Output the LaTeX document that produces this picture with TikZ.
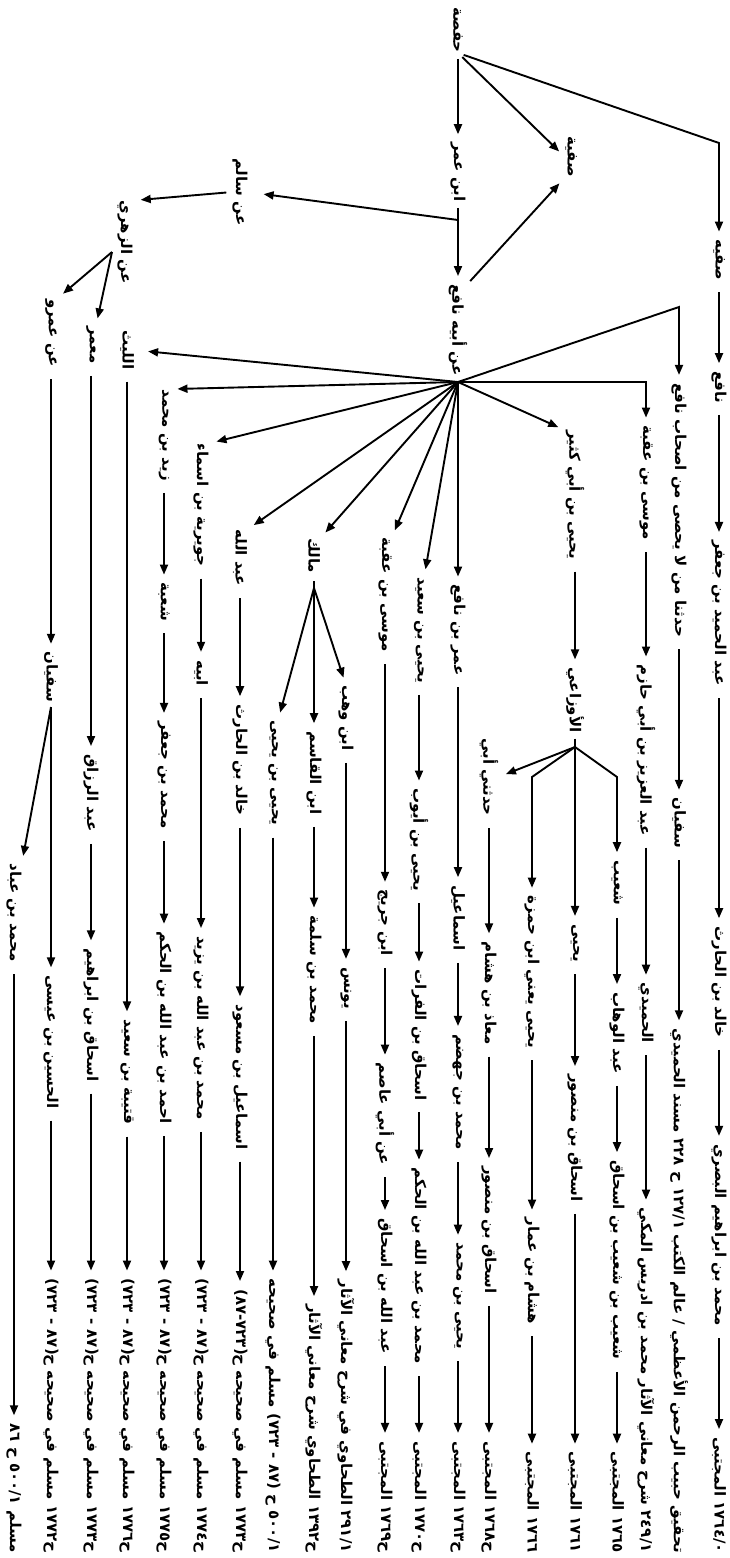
\documentclass[tikz,border=0pt]{standalone}
\usepackage{fontspec}
\usetikzlibrary{arrows.meta,calc}
\newfontfamily\arfont[Script=Arabic]{DejaVu Sans}
\newfontfamily\nm{DejaVu Sans}
\TeXXeTstate=1
\newcommand\AR[1]{\beginR #1\endR}
\newcommand\N[1]{{\nm\bfseries #1}}
\newcommand\NL[1]{\beginL{\nm\bfseries #1}\endL}
\tikzset{
 lbl/.style={rotate=-90, inner sep=0pt, font=\arfont\bfseries\fontsize{15pt}{17pt}\selectfont},
 ln/.style={line width=1.9pt},
 arr/.style={ln, -{Triangle[length=10pt,width=8pt]}, shorten >=8pt},
 ch/.style={arr, shorten <=12pt},
}
\newcommand\link[2]{\draw[ch] (#1.east) -- (#2.west);}
\begin{document}
\begin{tikzpicture}[x=1pt,y=-1pt]
\useasboundingbox (0,0) rectangle (730,1558);
\fill[white] (0,0) rectangle (730,1558);
% top
\node[lbl] (hafsa) at (458,30) {\AR{حفصة}};
\node[lbl] (ibnumar) at (458,172) {\AR{ابن عمر}};
\node[lbl] (safa) at (571,157) {\AR{صفية}};
\node[lbl] (nafi) at (458,330) {\AR{عن أبيه نافع}};
\node[lbl] (salim) at (240,192) {\AR{عن سالم}};
\node[lbl] (zuhri) at (125,242) {\AR{عن الزهري}};
\node[lbl] (amr) at (51,333) {\AR{عن عمرو}};
\node[lbl] (mamar) at (91,345) {\AR{معمر}};
\node[lbl] (layth) at (127,350) {\AR{الليث}};
\coordinate (cR) at (719,143);
\coordinate (cI) at (458,220);
\coordinate (hub) at (458,382);
\coordinate (cH) at (679,307);
\coordinate (zf) at (112,252);
\coordinate (mf) at (314,588);
\coordinate (af) at (575,747);
\coordinate (afL) at (532,777);
\coordinate (afR) at (617,777);
\coordinate (sf) at (51,707);
% column R
\node[lbl] (safb) at (719,260) {\AR{صفيه}};
\node[lbl] (nafb) at (719,387) {\AR{نافع}};
\node[lbl] (r3) at (719,613) {\AR{عبد الحميد بن جعفر}};
\node[lbl] (r4) at (719,982) {\AR{خالد بن الحارث}};
\node[lbl] (r5) at (719,1235) {\AR{محمد بن ابراهيم البصري}};
\node[lbl,anchor=east] (r6) at (719,1553) {\AR{\N{١٧٦٤/٠} المجتبى}};
% column H
\node[lbl] (h1) at (679,510) {\AR{حدثنا من لا يحصى من اصحاب نافع}};
\node[lbl] (h2) at (679,823) {\AR{سفيان}};
\node[lbl,anchor=east] (h3) at (679,1553) {\AR{تحقيق حبيب الرحمن الأعظمي \N{/} عالم الكتب \N{١٢٧/١} ح \N{٢٢٨} مسند الحميدي}};
% column M
\node[lbl] (m1) at (646,483) {\AR{موسى بن عقبة}};
\node[lbl] (m2) at (646,750) {\AR{عبد العزيز بن أبي حازم}};
\node[lbl] (m3) at (646,1013) {\AR{الحميدي}};
\node[lbl,anchor=east] (m4) at (646,1553) {\AR{\N{٢٤٩/١} شرح معاني الآثار محمد بن ادريس المكي}};
% Awzai group
\node[lbl] (k1) at (575,495) {\AR{يحيى بن أبي كثير}};
\node[lbl] (k2) at (575,700) {\AR{الأوزاعي}};
\node[lbl] (sh1) at (617,883) {\AR{شعيب}};
\node[lbl] (sh2) at (617,1033) {\AR{عبد الوهاب}};
\node[lbl] (sh3) at (617,1260) {\AR{شعيب بن شعيب بن اسحاق}};
\node[lbl,anchor=east] (sh4) at (617,1553) {\AR{\N{١٧٦٥} المجتبى}};
\node[lbl] (ya1) at (575,943) {\AR{يحيى}};
\node[lbl] (ya2) at (575,1138) {\AR{اسحاق بن منصور}};
\node[lbl,anchor=east] (ya3) at (575,1553) {\AR{\N{١٧٦١} المجتبى}};
\node[lbl] (yh1) at (532,972) {\AR{يحيى يعني ابن حمزة}};
\node[lbl] (yh2) at (532,1271) {\AR{هشام بن عمار}};
\node[lbl,anchor=east] (yh3) at (532,1553) {\AR{\N{١٧٦٦} المجتبى}};
\node[lbl] (ab1) at (489,777) {\AR{حدثني أبي}};
\node[lbl] (ab2) at (489,993) {\AR{معاذ بن هشام}};
\node[lbl] (ab3) at (489,1230) {\AR{اسحاق بن منصور}};
\node[lbl,anchor=east] (ab4) at (489,1553) {\AR{ح\N{١٧٦٨} المجتبى}};
% column U
\node[lbl] (u1) at (458,630) {\AR{عمر بن نافع}};
\node[lbl] (u2) at (458,918) {\AR{اسماعيل}};
\node[lbl] (u3) at (458,1092) {\AR{محمد بن جهضم}};
\node[lbl] (u4) at (458,1296) {\AR{يحيى بن محمد}};
\node[lbl,anchor=east] (u5) at (458,1553) {\AR{ح\N{١٧٦٣} المجتبى}};
% column S
\node[lbl] (s1) at (419,630) {\AR{يحيى بن سعيد}};
\node[lbl] (s2) at (419,840) {\AR{يحيى بن أيوب}};
\node[lbl] (s3) at (419,1035) {\AR{اسحاق بن الفرات}};
\node[lbl] (s4) at (419,1266) {\AR{محمد بن عبد الله بن الحكم}};
\node[lbl,anchor=east] (s5) at (419,1553) {\AR{ح\N{١٧٧٠} المجتبى}};
% column Q
\node[lbl] (q1) at (385,595) {\AR{موسى بن عقبة}};
\node[lbl] (q2) at (385,923) {\AR{ابن جريج}};
\node[lbl] (q3) at (385,1114) {\AR{عن أبي عاصم}};
\node[lbl] (q4) at (385,1286) {\AR{عبد الله بن اسحاق}};
\node[lbl,anchor=east] (q5) at (385,1553) {\AR{ح\N{١٧٦٩} المجتبى}};
% Malik
\node[lbl] (ml) at (314,556) {\AR{مالك}};
\node[lbl] (w1) at (346,718) {\AR{ابن وهب}};
\node[lbl] (w2) at (346,988) {\AR{يونس}};
\node[lbl,anchor=east] (w3) at (346,1553) {\AR{\N{٢٩١/١} الطحاوي في شرح معاني الآثار}};
\node[lbl] (c1) at (314,773) {\AR{ابن القاسم}};
\node[lbl] (c2) at (314,970) {\AR{محمد بن سلمة}};
\node[lbl,anchor=east] (c3) at (314,1553) {\AR{ح\N{١٣٩٢} الطحاوي شرح معاني الآثار}};
\node[lbl] (yy1) at (273,773) {\AR{يحيى بن يحيى}};
\node[lbl,anchor=east] (yy2) at (273,1553) {\AR{\N{٥٠٠/١} ح \NL{(٧٢٣ - ٨٧)} مسلم في صحيحه}};
% column A
\node[lbl] (a1) at (240,558) {\AR{عبد الله}};
\node[lbl] (a2) at (240,760) {\AR{خالد بن الحارث}};
\node[lbl] (a3) at (240,1077) {\AR{اسماعيل بن مسعود}};
\node[lbl,anchor=east] (a4) at (240,1553) {\AR{ح\N{١٧٧٣} مسلم في صحيحه ح\NL{(٧٢٣-٨٧)}}};
% column J
\node[lbl] (j1) at (201,505) {\AR{جويرية بن اسماء}};
\node[lbl] (j2) at (201,673) {\AR{ابيه}};
\node[lbl] (j3) at (201,1028) {\AR{محمد بن عبد الله بن يزيد}};
\node[lbl,anchor=east] (j4) at (201,1553) {\AR{ح\N{١٧٧٤} مسلم في صحيحه ح\NL{(٧٢٣ - ٨٧)}}};
% column Z
\node[lbl] (z1) at (164,435) {\AR{زيد بن محمد}};
\node[lbl] (z2) at (164,602) {\AR{شعبة}};
\node[lbl] (z3) at (164,775) {\AR{محمد بن جعفر}};
\node[lbl] (z4) at (164,1028) {\AR{احمد بن عبد الله بن الحكم}};
\node[lbl,anchor=east] (z5) at (164,1553) {\AR{ح\N{١٧٧٥} مسلم في صحيحه ح\NL{(٧٢٣ - ٨٧)}}};
% column T
\node[lbl] (t2) at (127,1072) {\AR{قتيبة بن سعيد}};
\node[lbl,anchor=east] (t3) at (127,1553) {\AR{ح\N{١٧٧٦} مسلم في صحيحه ح\NL{(٧٢٣ - ٨٧)}}};
% column E
\node[lbl] (e2) at (91,793) {\AR{عبد الرزاق}};
\node[lbl] (e3) at (91,1015) {\AR{اسحاق بن ابراهيم}};
\node[lbl,anchor=east] (e4) at (91,1553) {\AR{ح\N{١٧٧٣} مسلم في صحيحه ح\NL{(٧٢٣ - ٨٧)}}};
% column F
\node[lbl] (f2) at (51,677) {\AR{سفيان}};
\node[lbl] (f3) at (51,1042) {\AR{الحسين بن عيسى}};
\node[lbl,anchor=east] (f4) at (51,1553) {\AR{ح\N{١٧٧٢} مسلم في صحيحه ح\NL{(٧٢٣ - ٨٧)}}};
\node[lbl] (g1) at (14,913) {\AR{محمد بن عباد}};
\node[lbl,anchor=east] (g2) at (14,1553) {\AR{مسلم \N{٥٠٠/١} ح \N{٨٦}}};
% connectors top
\draw[arr,shorten <=6pt] (hafsa.east) -- (ibnumar.west);
\draw[arr,shorten <=6pt] (hafsa.east) -- (safa.south);
\draw[arr,shorten <=6pt] (hafsa.east) -- (cR) -- (safb.west);
\draw[arr,shorten <=6pt] (ibnumar.east) -- (nafi.west);
\draw[arr,shorten >=16pt] (cI) -- (salim.north);
\draw[arr,shorten <=4pt] (nafi.north west) -- (safa.south east);
\draw[arr] (hub) -- (cH) -- (h1.west);
\draw[arr] (hub) -| (m1.west);
\draw[arr] (hub) -- (k1.south west);
\draw[arr] (hub) -- (u1.west);
\draw[arr] (hub) -- (s1.north west);
\draw[arr] (hub) -- (q1.north west);
\draw[arr] (hub) -- (ml.north west);
\draw[arr] (hub) -- (a1.north west);
\draw[arr] (hub) -- (j1.north west);
\draw[arr] (hub) -- (z1.north west);
\draw[arr,shorten >=14pt] (hub) -- (layth.north);
\draw[arr,shorten <=6pt] (salim.south) -- (zuhri.north west);
\draw[arr] (zf) -- (amr.north west);
\draw[arr] (zf) -- (mamar.north west);
% chains
\link{safb}{nafb}\link{nafb}{r3}\link{r3}{r4}\link{r4}{r5}\link{r5}{r6}
\link{h1}{h2}\link{h2}{h3}
\link{m1}{m2}\link{m2}{m3}\link{m3}{m4}
\link{k1}{k2}
\draw[ln,shorten <=6pt] (k2.east) -- (af);
\draw[arr] (af) -- (ab1.north);
\draw[arr] (af) -- (afL) -- (yh1.west);
\draw[arr] (af) -- (ya1.west);
\draw[arr] (af) -- (afR) -- (sh1.west);
\link{sh1}{sh2}\link{sh2}{sh3}\link{sh3}{sh4}
\link{ya1}{ya2}\link{ya2}{ya3}
\link{yh1}{yh2}\link{yh2}{yh3}
\link{ab1}{ab2}\link{ab2}{ab3}\link{ab3}{ab4}
\link{u1}{u2}\link{u2}{u3}\link{u3}{u4}\link{u4}{u5}
\link{s1}{s2}\link{s2}{s3}\link{s3}{s4}\link{s4}{s5}
\link{q1}{q2}\link{q2}{q3}\link{q3}{q4}\link{q4}{q5}
\draw[ln,shorten <=8pt] (ml.east) -- (mf);
\draw[arr] (mf) -- (yy1.north west);
\draw[arr] (mf) -- (c1.west);
\draw[arr] (mf) -- (w1.west);
\link{w1}{w2}\link{w2}{w3}
\link{c1}{c2}\link{c2}{c3}
\link{yy1}{yy2}
\link{a1}{a2}\link{a2}{a3}\link{a3}{a4}
\link{j1}{j2}\link{j2}{j3}\link{j3}{j4}
\link{z1}{z2}\link{z2}{z3}\link{z3}{z4}\link{z4}{z5}
\link{layth}{t2}\link{t2}{t3}
\link{mamar}{e2}\link{e2}{e3}\link{e3}{e4}
\link{amr}{f2}
\draw[ln,shorten <=6pt] (f2.east) -- (sf);
\draw[arr] (sf) -- (g1.north west);
\draw[arr] (sf) -- (f3.west);
\link{f3}{f4}
\link{g1}{g2}
\end{tikzpicture}
\end{document}
